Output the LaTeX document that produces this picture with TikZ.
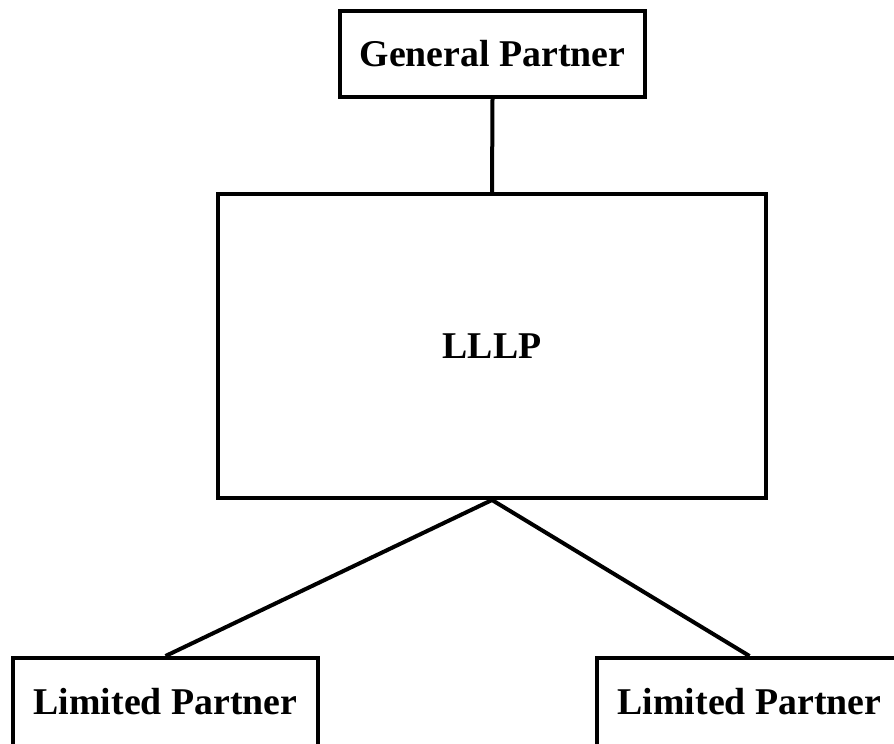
\documentclass[tikz,border=0pt]{standalone}
\usepackage{fontspec}
\setmainfont{Liberation Serif}
\begin{document}
\begin{tikzpicture}[x=1pt,y=-1pt,
  box/.style={draw=black, line width=4pt, rectangle, inner sep=0pt,
    font=\fontsize{37.8}{40}\selectfont\bfseries},
  link/.style={draw=black, line width=4pt}]
\useasboundingbox (0,0) rectangle (894,744);
\clip (0,0) rectangle (894,744);
% partner boxes
\node[box, minimum width=305, minimum height=86] (gp) at (492.5,54) {General Partner};
\node[box, minimum width=548, minimum height=304] (lllp) at (492,346) {LLLP};
\node[box, minimum width=305, minimum height=92, text depth=6] (lp1) at (165.5,704) {Limited Partner};
\node[box, minimum width=305, minimum height=92, text depth=6] (lp2) at (749.5,704) {Limited Partner};
% connectors
\draw[link] (gp.south) -- (lllp.north);
\draw[link] (lllp.south) -- (lp1.north);
\draw[link] (lllp.south) -- (lp2.north);
\end{tikzpicture}
\end{document}
